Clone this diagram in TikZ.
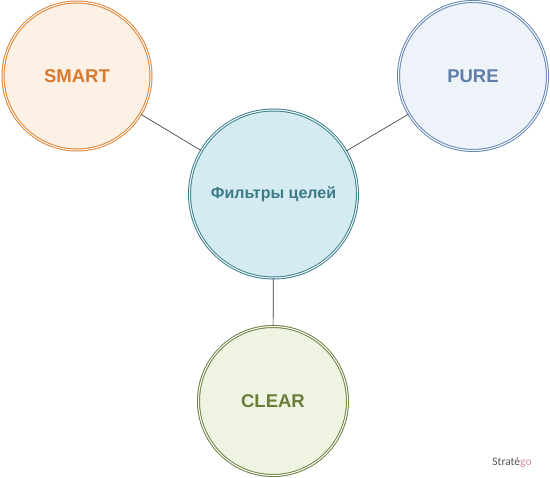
\documentclass[tikz,border=0pt]{standalone}
\usepackage{fontspec}
\setmainfont{Liberation Sans}
\newfontfamily\logofont{Carlito}
\begin{document}
\begin{tikzpicture}[x=1pt,y=-1pt,
  bubble/.style={circle,draw=#1,double=white,double distance=1.0pt,line width=1.0pt,inner sep=0pt,font=\bfseries},
  link/.style={draw=black!80,line width=0.6pt}]
\definecolor{smartline}{HTML}{DD8234}
\definecolor{smartfill}{HTML}{FDF0E4}
\definecolor{smarttext}{HTML}{D97A2E}
\definecolor{pureline}{HTML}{6586B3}
\definecolor{purefill}{HTML}{EEF3F9}
\definecolor{puretext}{HTML}{5F7FA8}
\definecolor{midline}{HTML}{3A808E}
\definecolor{midfill}{HTML}{D4ECF1}
\definecolor{midtext}{HTML}{3D7A88}
\definecolor{clearline}{HTML}{6F8245}
\definecolor{clearfill}{HTML}{EEF3E2}
\definecolor{cleartext}{HTML}{6C7D3A}
\definecolor{logogray}{HTML}{555555}
\definecolor{logopink}{HTML}{D88AA0}
\useasboundingbox (0,0) rectangle (550,478);
\fill[white] (0,0) rectangle (550,478);
\node[bubble=midline,fill=midfill,minimum size=168pt,text=midtext,font=\bfseries\fontsize{16}{18}\selectfont] (mid) at (273.5,194) {Фильтры целей};
\node[bubble=smartline,fill=smartfill,minimum size=148pt,text=smarttext,font=\bfseries\fontsize{18.5}{20}\selectfont] (smart) at (77,76) {SMART};
\node[bubble=pureline,fill=purefill,minimum size=149pt,text=puretext,font=\bfseries\fontsize{18.5}{20}\selectfont] (pure) at (473,76) {PURE};
\node[bubble=clearline,fill=clearfill,minimum size=149pt,text=cleartext,font=\bfseries\fontsize{18.5}{20}\selectfont] (clear) at (273,401) {CLEAR};
\draw[link] (smart) -- (mid);
\draw[link] (pure) -- (mid);
\draw[link] (mid) -- (clear);
\node[font=\logofont\fontsize{11.5}{13}\selectfont,inner sep=0pt] (logo) at (512,463) {\textcolor{logogray}{Straté}\textcolor{logopink}{go}};
\end{tikzpicture}
\end{document}
